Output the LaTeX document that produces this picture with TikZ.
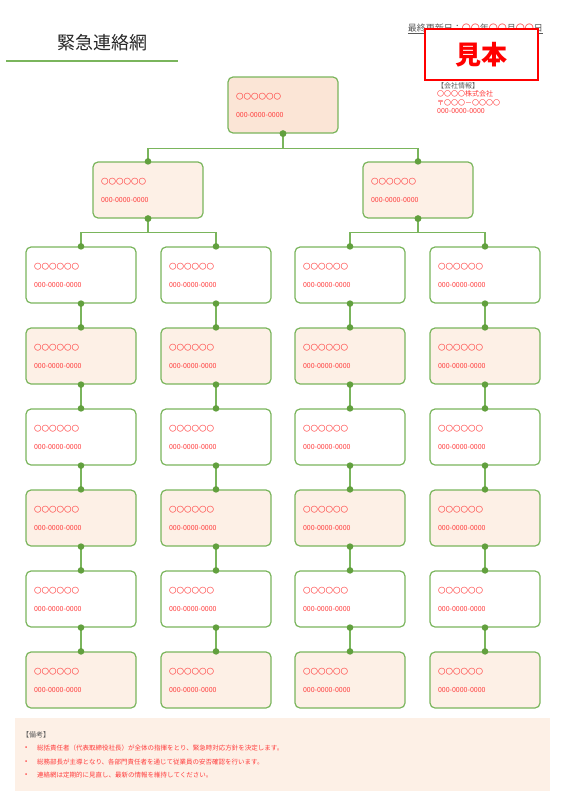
\documentclass[tikz,border=0pt]{standalone}
\usepackage{fontspec}
\setmainfont{Noto Sans CJK JP}
\usetikzlibrary{arrows.meta, positioning}
\definecolor{netgreen}{HTML}{7AB55C}
\definecolor{netdot}{HTML}{62A03E}
\definecolor{netred}{HTML}{FF3B3B}
\definecolor{netgray}{HTML}{595959}
\definecolor{peachdark}{HTML}{FBE5D6}
\definecolor{peachlight}{HTML}{FDF0E6}
\tikzset{
  card/.style={rectangle, rounded corners=5pt, draw=netgreen, line width=1.2pt, minimum width=110pt,
    minimum height=56pt, text width=94pt, inner sep=0pt, align=left, text=netred,
    font=\fontsize{7.5}{18}\selectfont, fill=white},
  link/.style={{Circle[length=6.5pt,color=netdot]}-{Circle[length=6.5pt,color=netdot]}, line width=1.2pt,
    netgreen, shorten <=-3.25pt, shorten >=-3.25pt},
  note/.style={font=\fontsize{6.5}{8}\selectfont, text=netred, anchor=west, inner sep=0pt},
}
\newcommand{\cardtext}{〇〇〇〇〇〇\\{\fontsize{7}{18}\selectfont 000-0000-0000}}

\begin{document}
\begin{tikzpicture}[x=1pt,y=-1pt]
  \useasboundingbox (0,0) rectangle (566,800);
  % title
  \node[font=\fontsize{18}{20}\selectfont, text=black!85] (title) at (102,43) {緊急連絡網};
  \draw[netgreen, line width=1.6pt] (6,61) -- (178,61);
  % date, stamp, company
  \node[font=\fontsize{9}{10}\selectfont, text=netgray, anchor=east, inner sep=0pt] (date) at (543,29)
    {\underline{最終更新日：\textcolor{netred}{〇〇}年\textcolor{netred}{〇〇}月\textcolor{netred}{〇〇}日}};
  \node[draw=red, line width=2pt, fill=white, minimum width=113pt, minimum height=51pt, text=red,
    font=\fontsize{26}{28}\selectfont\bfseries] (stamp) at (481,54.5) {見本};
  \node[anchor=north west, align=left, inner sep=0pt, font=\fontsize{7}{8.6}\selectfont, text=netred]
    (company) at (437,82) {\textcolor{netgray}{【会社情報】}\\〇〇〇〇株式会社\\〒〇〇〇－〇〇〇〇\\000-0000-0000};
  % top levels
  \node[card, fill=peachdark] (root) at (283,105) {\cardtext};
  \node[card, fill=peachlight] (left) at (148,190) {\cardtext};
  \node[card, fill=peachlight] (right) at (418,190) {\cardtext};
  \draw[link] (root.south) -- ++(0,15) -| (left.north);
  \draw[link] (root.south) -- ++(0,15) -| (right.north);
  % member grid
  \foreach \c/\x in {1/81, 2/216, 3/350, 4/485} {
    \foreach \r/\y/\f in {1/275/white, 2/356/peachlight, 3/437/white, 4/518/peachlight, 5/599/white, 6/680/peachlight}
      \node[card, fill=\f] (m\c\r) at (\x,\y) {\cardtext};
  }
  \draw[link] (left.south) -- ++(0,14) -| (m11.north);
  \draw[link] (left.south) -- ++(0,14) -| (m21.north);
  \draw[link] (right.south) -- ++(0,14) -| (m31.north);
  \draw[link] (right.south) -- ++(0,14) -| (m41.north);
  \foreach \c in {1,...,4}
    \foreach \r/\s in {1/2, 2/3, 3/4, 4/5, 5/6}
      \draw[link] (m\c\r.south) -- (m\c\s.north);
  % notes
  \node[fill=peachlight, minimum width=535pt, minimum height=73pt, anchor=north west, inner sep=0pt]
    (notebox) at (15,718) {};
  \node[note, text=netgray, font=\fontsize{7}{8}\selectfont] (notehead) at (22,735) {【備考】};
  \node[note] (b1) at (25,748) {•};
  \node[note] (n1) at (37,748) {総括責任者（代表取締役社長）が全体の指揮をとり、緊急時対応方針を決定します。};
  \node[note] (b2) at (25,762) {•};
  \node[note] (n2) at (37,762) {総務部長が主導となり、各部門責任者を通じて従業員の安否確認を行います。};
  \node[note] (b3) at (25,775) {•};
  \node[note] (n3) at (37,775) {連絡網は定期的に見直し、最新の情報を維持してください。};
\end{tikzpicture}
\end{document}
